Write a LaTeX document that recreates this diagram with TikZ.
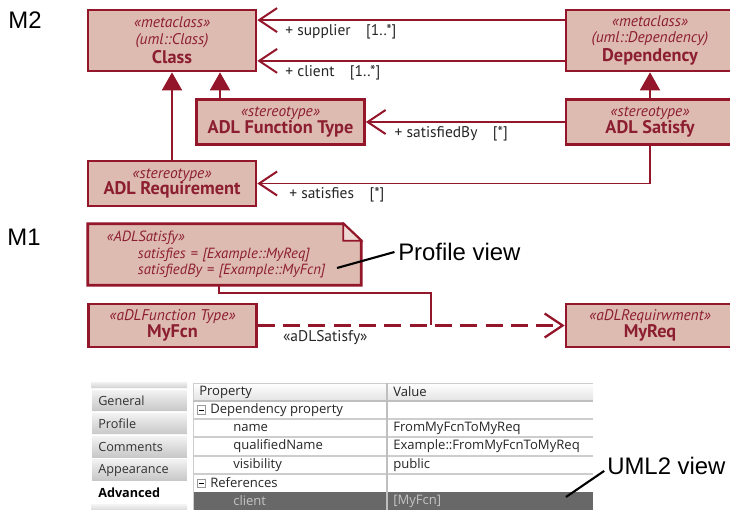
\documentclass[tikz,border=0pt]{standalone}
\usepackage{xcolor}
\usepackage{fontspec}
\usepackage{tikz}
\usetikzlibrary{arrows.meta, positioning, calc, backgrounds}
\setmainfont{Liberation Sans}
\newfontfamily\umlfont{PT Sans}
\newfontfamily\uifont{Open Sans}
\definecolor{umlred}{RGB}{148,22,42}
\definecolor{umltext}{RGB}{140,30,50}
\definecolor{umlfill}{RGB}{222,187,177}
\definecolor{umlfold}{RGB}{238,218,212}
\definecolor{gridgray}{RGB}{205,205,205}
\definecolor{rowdark}{RGB}{104,104,104}
\definecolor{rowtext}{RGB}{195,195,195}
\newcommand{\stereo}[1]{{\itshape\fontsize{11}{12}\selectfont #1}}
\newcommand{\umlname}[1]{{\bfseries\fontsize{13}{14}\selectfont #1}}
\tikzset{
  umlbox/.style={rectangle, draw=umlred, fill=umlfill, text=umltext,
    minimum width=4.2cm, align=center, font=\umlfont, inner sep=0pt,
    line width=1.9pt},
  metabox/.style={umlbox, minimum height=1.525cm},
  stereobox/.style={umlbox, minimum height=1.125cm},
  instbox/.style={umlbox, minimum height=1.075cm},
  notebox/.style={rectangle, text width=5.875cm, inner xsep=0.475cm,
    inner ysep=0pt, minimum height=1.525cm, align=left, text=umltext,
    font=\umlfont\itshape\fontsize{10.5}{11.7}\selectfont},
  assoc/.style={-{Straight Barb[length=0.45cm, width=0.6cm]}, line width=1.4pt, color=umlred},
  gen/.style={-{Triangle[length=0.45cm, width=0.5cm]}, line width=1.4pt, color=umlred},
  depline/.style={assoc, line width=1.6pt, dash pattern=on 12pt off 6pt},
  link/.style={line width=1.4pt, color=umlred},
  rolelabel/.style={font=\umlfont\fontsize{11}{12}\selectfont, text=black!85, inner sep=1pt},
  viewlabel/.style={font=\fontsize{17}{19}\selectfont, inner sep=0pt},
  callout/.style={line width=1.5pt, black},
  tabtext/.style={font=\uifont\fontsize{9}{10}\selectfont, text=black!80, inner sep=0pt, anchor=west},
  celltext/.style={font=\uifont\fontsize{9.3}{10}\selectfont, text=black!85, inner sep=0pt, anchor=west},
  minusbox/.style={rectangle, draw=gray!80, fill=white, minimum size=6pt, inner sep=0pt,
    path picture={\draw[black, line width=0.6pt] ([xshift=1.5pt]path picture bounding box.west)
      -- ([xshift=-1.5pt]path picture bounding box.east);}}
}

\begin{document}
\begin{tikzpicture}[x=0.025cm, y=-0.025cm]
  \useasboundingbox (0,0) rectangle (730,510);

  \node[viewlabel] (m2) at (25,20) {M2};
  \node[viewlabel] (m1) at (24,237) {M1};

  % M2: profile
  \node[metabox] (cls) at (172,40.5) {\stereo{«metaclass»}\\\stereo{(uml::Class)}\\[1.5pt]\umlname{Class}};
  \node[metabox] (dep) at (650,40.5) {\stereo{«metaclass»}\\\stereo{(uml::Dependency)}\\[1.5pt]\umlname{Dependency}};
  \node[stereobox] (fcntype) at (280.5,122) {\stereo{«stereotype»}\\\umlname{ADL Function Type}};
  \node[stereobox] (satisfy) at (650,122) {\stereo{«stereotype»}\\\umlname{ADL Satisfy}};
  \node[stereobox] (req) at (172,183.5) {\stereo{«stereotype»}\\\umlname{ADL Requirement}};

  \draw[assoc] ([yshift=0.51cm]dep.west) -- ([yshift=0.51cm]cls.east)
    node[rolelabel, anchor=north west, xshift=0.64cm, yshift=-0.05cm] {+ supplier\quad[1..*]};
  \draw[assoc] ([yshift=-0.51cm]dep.west) -- ([yshift=-0.51cm]cls.east)
    node[rolelabel, anchor=north west, xshift=0.64cm, yshift=-0.05cm] {+ client\quad[1..*]};
  \draw[assoc] (satisfy.west) -- (fcntype.east)
    node[rolelabel, anchor=north west, xshift=0.66cm, yshift=-0.05cm] {+ satisfiedBy\quad[*]};
  \draw[assoc] (satisfy.south) |- (req.east)
    node[rolelabel, anchor=north west, xshift=0.74cm, yshift=-0.05cm] {+ satisfies\quad[*]};

  \coordinate (fg) at ([xshift=1.2cm]cls.south);
  \draw[gen] (req) -- (cls);
  \draw[gen] (fg |- fcntype.north) -- (fg);
  \draw[gen] (satisfy) -- (dep);

  % M1: model
  \node[notebox] (note) at (224.5,254.5) {«ADLSatisfy»\\
    \hspace*{0.775cm}satisfies = [Example::MyReq]\\
    \hspace*{0.775cm}satisfiedBy = [Example::MyFcn]};
  \begin{scope}[on background layer]
    \draw[umlred, fill=umlfill, line width=1.9pt] (note.south west) -- (note.north west)
      -- ($(note.north east)+(-18,0)$) -- ($(note.north east)+(0,17)$) -- (note.south east) -- cycle;
    \draw[umlred, fill=umlfold, line width=1.2pt] ($(note.north east)+(-18,0)$)
      -- ($(note.north east)+(-18,17)$) -- ($(note.north east)+(0,17)$) -- cycle;
  \end{scope}

  \node[instbox] (fcn) at (172.5,325.5) {\stereo{«aDLFunction Type»}\\\umlname{MyFcn}};
  \node[instbox] (myreq) at (650,325.5) {\stereo{«aDLRequirwment»}\\\umlname{MyReq}};
  \draw[depline] (fcn) -- (myreq) node[rolelabel, pos=0.22, below=2pt] (deplbl) {«aDLSatisfy»};

  \coordinate (lk) at (431,293);
  \draw[link] ([xshift=-0.14cm]note.south) |- (lk) -- (lk |- fcn.east);

  \node[viewlabel, anchor=west] (pview) at (398,252) {Profile view};
  \coordinate (pvtip) at (337,268);
  \draw[callout] (pvtip) -- ([xshift=-2.5pt]pview.west);

  % UML2 property sheet
  \shade[top color=gray!15, bottom color=gray!40] (91,383) rectangle (187,389);
  \foreach \ty/\tname in {389/General, 412/Profile, 435/Comments, 458/Appearance} {
    \shade[top color=gray!8, bottom color=gray!45, draw=white] (91,\ty) rectangle (187,\ty+23);
    \node[tabtext] (tab\tname) at (98,\ty+12) {\tname};
  }
  \node[tabtext, font=\uifont\bfseries\fontsize{9}{10}\selectfont, text=black] (tabAdvanced) at (98,492.5) {Advanced};
  \shade[top color=gray!8, bottom color=gray!45] (91,504) rectangle (187,515);

  \shade[top color=white, bottom color=gray!22] (193,383) rectangle (593,401);
  \fill[rowdark] (193,492) rectangle (593,515);
  \draw[gridgray] (193,515) -- (193,383) -- (593,383);
  \draw[gray!50, line width=0.8pt] (193,401) -- (593,401);
  \foreach \ry in {419,437,456,474} \draw[gridgray, line width=0.8pt] (193,\ry) -- (593,\ry);
  \draw[gray!50, line width=1pt] (387,383) -- (387,515);

  \node[celltext] (hprop) at (199,392) {Property};
  \node[celltext] (hval) at (393,392) {Value};
  \node[minusbox] (mdep) at (201.5,410) {};
  \node[celltext] (rdep) at (210,410) {Dependency property};
  \foreach \ry/\rname/\rval in {428/name/FromMyFcnToMyReq, 446.5/qualifiedName/Example::FromMyFcnToMyReq, 465/visibility/public} {
    \node[celltext] (p\rname) at (233,\ry) {\rname};
    \node[celltext] (v\rname) at (393,\ry) {\rval};
  }
  \node[minusbox] (mref) at (201.5,483) {};
  \node[celltext] (rref) at (210,483) {References};
  \node[celltext, text=rowtext] (pclient) at (233,501) {client};
  \node[celltext, text=rowtext] (vclient) at (393,501) {[MyFcn]};

  \node[viewlabel, anchor=west] (uview) at (607,466) {UML2 view};
  \coordinate (uvtip) at (566,497);
  \draw[callout] (uvtip) -- ([shift={(-2pt,-3.5pt)}]uview.west);
\end{tikzpicture}
\end{document}
